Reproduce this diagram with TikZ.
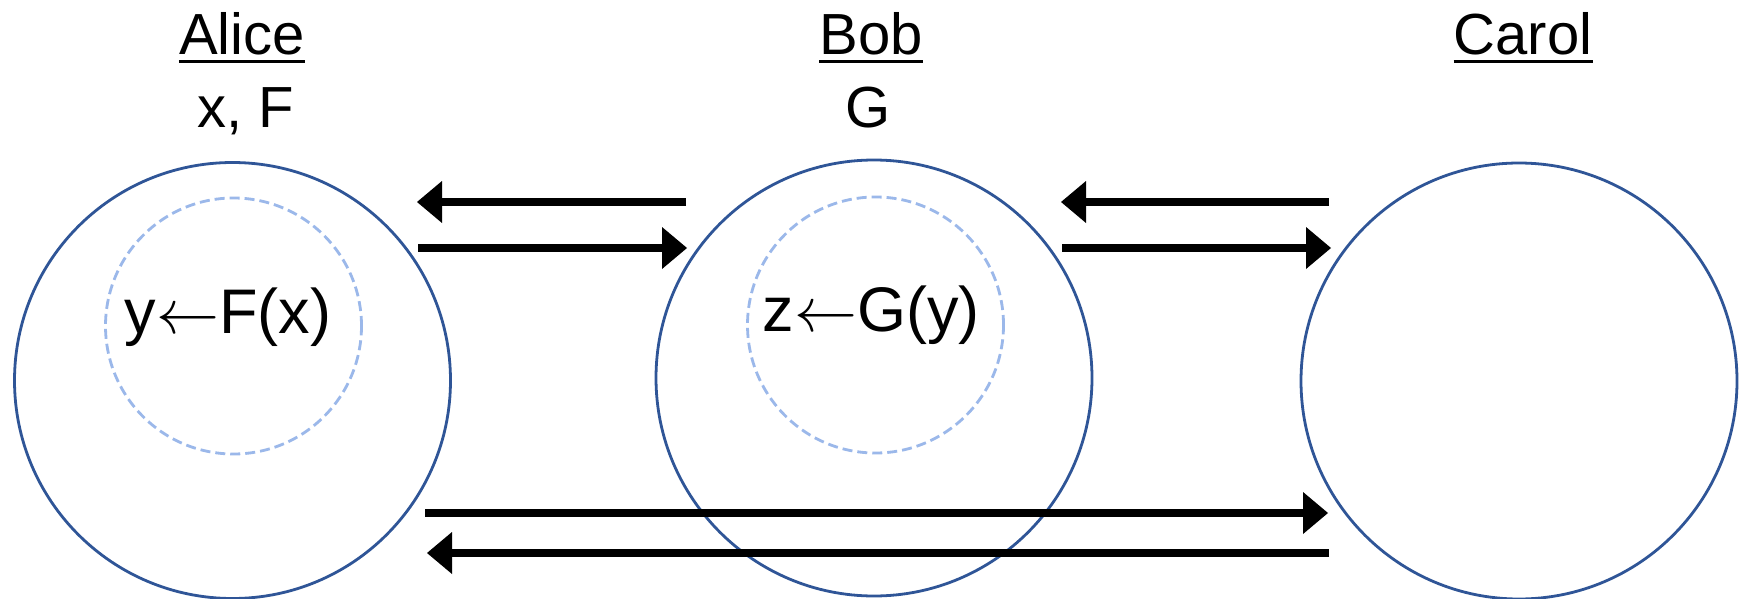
\RequirePackage{fix-cm}
\documentclass[tikz,border=0pt]{standalone}
\usepackage{fontspec}
\setmainfont{Liberation Sans}
\usetikzlibrary{arrows.meta}
\definecolor{ringblue}{HTML}{2F5597}
\definecolor{dashblue}{HTML}{9BB8EA}
\begin{document}
\begin{tikzpicture}[x=1pt,y=-1pt,
  ring/.style={circle, draw=ringblue, line width=2.8pt, minimum size=436pt, inner sep=0pt},
  innerring/.style={circle, draw=dashblue, line width=2.8pt, dash pattern=on 10pt off 5pt, minimum size=256pt, inner sep=0pt},
  title/.style={font=\fontsize{58}{62}\selectfont, inner sep=0pt, anchor=base},
  fn/.style={font=\fontsize{63}{66}\selectfont, inner sep=0pt, anchor=base},
  msg/.style={line width=8.3pt, -{Triangle[length=25pt,width=42pt,line width=0pt]}},
  uline/.style={line width=3pt}
]
\useasboundingbox[fill=white] (0,0) rectangle (1744,599);

% circles
\node[ring] (alice) at (232.5,380.5) {};
\node[ring] (bob) at (874,378) {};
\node[ring] (carol) at (1519,381) {};
\node[innerring] (aliceinner) at (233.5,326) {};
\node[innerring] (bobinner) at (875.5,325) {};

% titles
\node[title] (alicet) at (242,55) {Alice};
\node[title] (bobt) at (871,55) {Bob};
\node[title] (carolt) at (1523,55) {Carol};
\draw[uline] ([yshift=-6.5pt]alicet.base west) -- ([yshift=-6.5pt]alicet.base east);
\draw[uline] ([yshift=-6.5pt]bobt.base west) -- ([yshift=-6.5pt]bobt.base east);
\draw[uline] ([yshift=-6.5pt]carolt.base west) -- ([yshift=-6.5pt]carolt.base east);
\node[title] (alicevars) at (246,128) {x, F};
\node[title] (bobvars) at (868,128) {G};

% functions
\node[fn] (alicefn) at (228,333) {y$\leftarrow$F(x)};
\node[fn] (bobfn) at (871,331) {z$\leftarrow$G(y)};

% message endpoints
\coordinate (ab1s) at (686,202);
\coordinate (ab1e) at (417,202);
\coordinate (ab2s) at (418,248);
\coordinate (ab2e) at (687,248);
\coordinate (bc1s) at (1329,202);
\coordinate (bc1e) at (1061,202);
\coordinate (bc2s) at (1062,248);
\coordinate (bc2e) at (1331,248);
\coordinate (ac1s) at (425,513);
\coordinate (ac1e) at (1328,513);
\coordinate (ac2s) at (1329,553);
\coordinate (ac2e) at (427,553);

\draw[msg] (ab1s) -- (ab1e);
\draw[msg] (ab2s) -- (ab2e);
\draw[msg] (bc1s) -- (bc1e);
\draw[msg] (bc2s) -- (bc2e);
\draw[msg] (ac1s) -- (ac1e);
\draw[msg] (ac2s) -- (ac2e);
\end{tikzpicture}
\end{document}
